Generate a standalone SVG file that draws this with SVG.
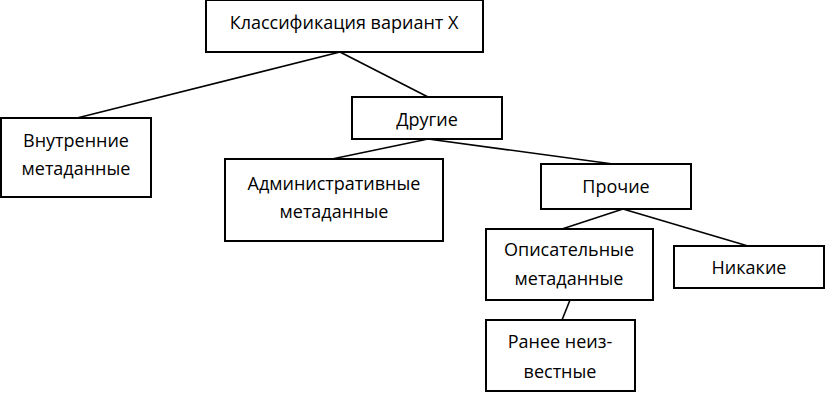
<svg xmlns="http://www.w3.org/2000/svg" width="825" height="393" viewBox="0 0 825 393">
<style>
.box{fill:#fff;stroke:#000;stroke-width:2}
.t{font-family:"Open Sans","Liberation Sans",sans-serif;font-size:18px;fill:#000;text-anchor:middle}
.c{stroke:#000;stroke-width:1.6;fill:none}
</style>
<rect width="825" height="393" fill="#fff"/>
<g id="connectors">
<line class="c" x1="340" y1="52" x2="77" y2="118"/>
<line class="c" x1="340" y1="52" x2="428" y2="97"/>
<line class="c" x1="428" y1="139" x2="332" y2="159"/>
<line class="c" x1="428" y1="139" x2="613" y2="164"/>
<line class="c" x1="623" y1="209" x2="562" y2="229"/>
<line class="c" x1="623" y1="209" x2="748" y2="246"/>
<line class="c" x1="570" y1="300" x2="562" y2="320"/>
</g>
<g id="root"><rect class="box" x="206" y="0" width="277" height="52"/><text class="t" x="344" y="29">Классификация вариант X</text></g>
<g id="vnutr"><rect class="box" x="1" y="118" width="150" height="79"/><text class="t" x="76" y="147">Внутренние</text><text class="t" x="76" y="175">метаданные</text></g>
<g id="drugie"><rect class="box" x="352" y="97" width="150" height="42"/><text class="t" x="427" y="126">Другие</text></g>
<g id="admin"><rect class="box" x="225" y="159" width="218" height="82"/><text class="t" x="334" y="190">Административные</text><text class="t" x="334" y="218">метаданные</text></g>
<g id="prochie"><rect class="box" x="541" y="164" width="150" height="45"/><text class="t" x="616" y="193">Прочие</text></g>
<g id="opis"><rect class="box" x="486" y="229" width="167" height="71"/><text class="t" x="569" y="256">Описательные</text><text class="t" x="569" y="285">метаданные</text></g>
<g id="nikakie"><rect class="box" x="674" y="246" width="150" height="42"/><text class="t" x="749" y="274">Никакие</text></g>
<g id="ranee"><rect class="box" x="486" y="320" width="149" height="71"/><text class="t" x="560" y="348">Ранее неиз-</text><text class="t" x="560" y="378">вестные</text></g>
</svg>
